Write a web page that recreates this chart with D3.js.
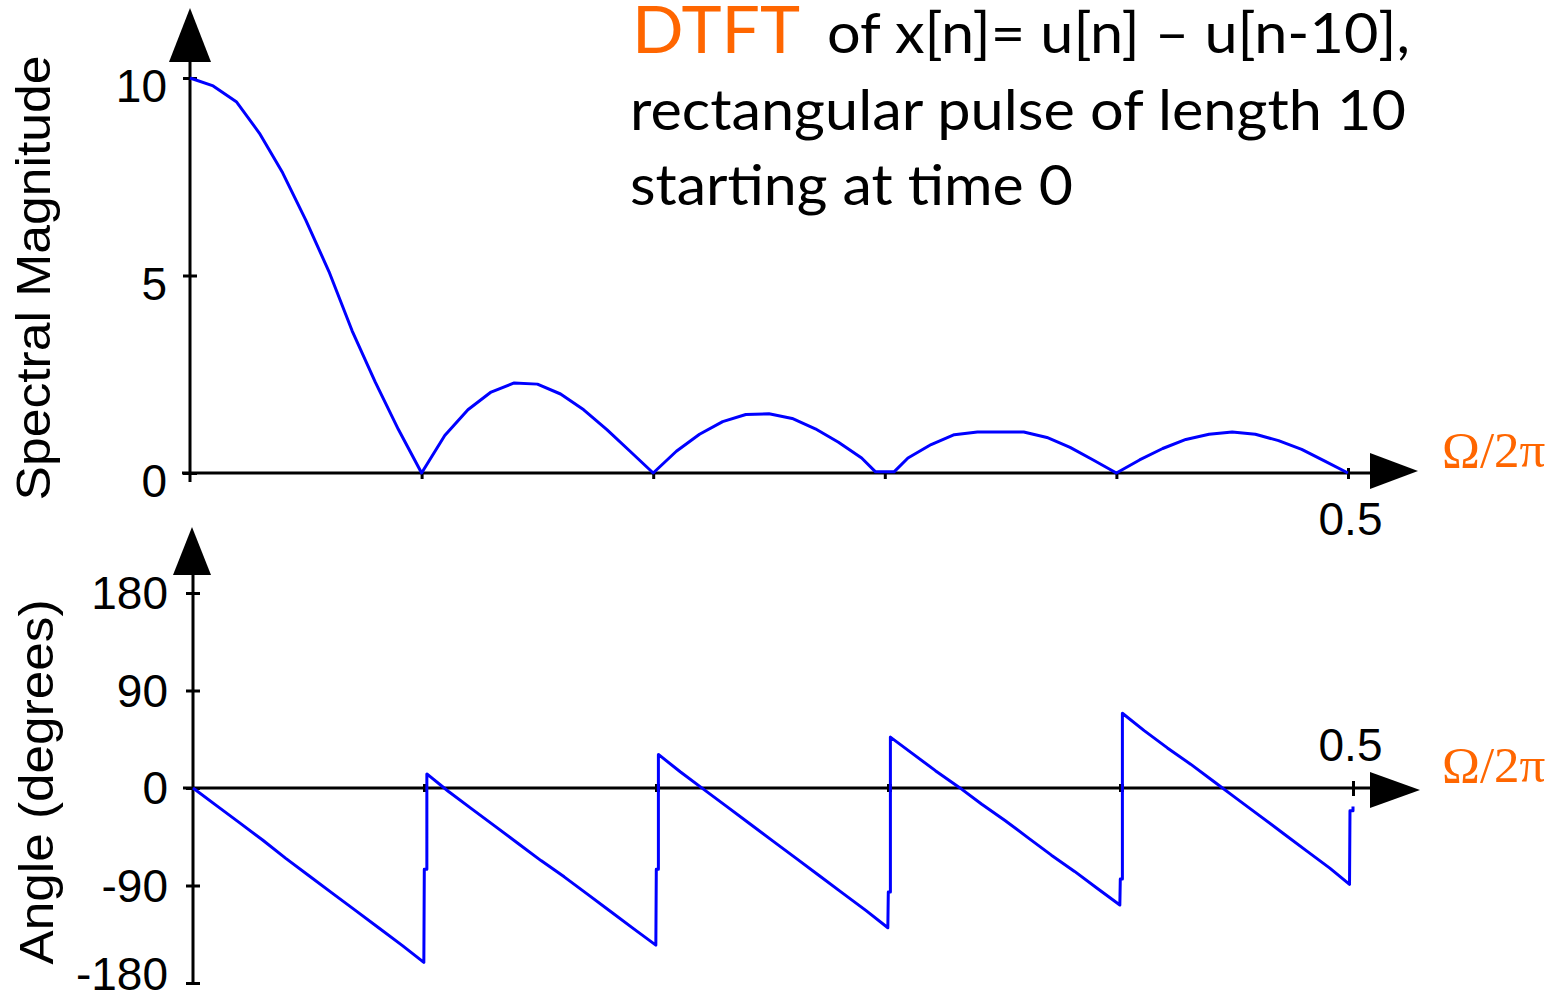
<!DOCTYPE html>
<html>
<head>
<meta charset="utf-8">
<script src="https://cdn.jsdelivr.net/npm/d3@7"></script>
<style>
  html, body { margin: 0; padding: 0; background: #ffffff; }
  svg { display: block; }
</style>
</head>
<body>
<svg id="chart" width="1566" height="1000"></svg>
<script>
// Normalised frequency samples (Ω/2π) and spectral magnitude of the length-10 pulse
const magFreq = [0, 0.01, 0.02, 0.03, 0.04, 0.05, 0.06, 0.07, 0.08, 0.09, 0.1,
  0.11, 0.12, 0.13, 0.14, 0.15, 0.16, 0.17, 0.18, 0.19, 0.2,
  0.21, 0.22, 0.23, 0.24, 0.25, 0.26, 0.27, 0.28, 0.29, 0.296, 0.304,
  0.31, 0.32, 0.33, 0.34, 0.35, 0.36, 0.37, 0.38, 0.39, 0.4,
  0.41, 0.42, 0.43, 0.44, 0.45, 0.46, 0.47, 0.48, 0.49, 0.5];
const magValue = [10, 9.8, 9.4, 8.6, 7.6, 6.4, 5.1, 3.6, 2.3, 1.1, 0,
  0.95, 1.6, 2.05, 2.28, 2.25, 2.0, 1.6, 1.1, 0.55, 0,
  0.55, 0.98, 1.3, 1.48, 1.5, 1.38, 1.12, 0.78, 0.38, 0.03, 0.03,
  0.38, 0.72, 0.97, 1.04, 1.04, 1.04, 0.9, 0.65, 0.33, 0,
  0.33, 0.62, 0.85, 0.98, 1.04, 0.98, 0.82, 0.6, 0.3, 0];

// Phase samples in degrees; repeated frequencies give the vertical jumps at the zeros
const phaseFreq = [0, 0.01, 0.02, 0.03, 0.04, 0.05, 0.06, 0.07, 0.08, 0.09, 0.0995,
  0.0997, 0.1008, 0.1008,
  0.11, 0.12, 0.13, 0.14, 0.15, 0.16, 0.17, 0.18, 0.19, 0.1995,
  0.1997, 0.2006, 0.2006,
  0.21, 0.22, 0.23, 0.24, 0.25, 0.26, 0.27, 0.28, 0.29, 0.2995,
  0.2997, 0.3006, 0.3006,
  0.31, 0.32, 0.33, 0.34, 0.35, 0.36, 0.37, 0.38, 0.39, 0.3995,
  0.3997, 0.4006, 0.4006,
  0.41, 0.42, 0.43, 0.44, 0.45, 0.46, 0.47, 0.48, 0.49, 0.4985,
  0.4987, 0.5, 0.5];
const phaseDeg = [0, -16, -32, -48, -65, -81, -97, -113, -129, -145, -161,
  -75, -75, 13,
  -3, -19, -35, -51, -67, -82, -98, -114, -130, -145,
  -75, -75, 31,
  15, -1, -17, -33, -49, -65, -81, -97, -113, -129,
  -96, -96, 47,
  32, 16, 1, -15, -30, -46, -62, -77, -93, -108,
  -84, -84, 69,
  53, 37, 22, 6, -10, -26, -42, -58, -74, -89,
  -21, -21, -17];

// Axis tick values and labels
const magTicks = [0, 5, 10];
const angleTicks = [-180, -90, 0, 90, 180];
const freqTicks = [0.1, 0.2, 0.3, 0.4, 0.5];
const freqLabel = "0.5";
const axisName = "Ω/2π";
const magTitle = "Spectral Magnitude";
const angleTitle = "Angle (degrees)";
const headline = ["DTFT", "of x[n]= u[n] – u[n-10],", "rectangular pulse of length 10", "starting at time 0"];

const svg = d3.select("#chart");
svg.append("rect").attr("width", 1566).attr("height", 1000).attr("fill", "#ffffff");

const ORANGE = "#ff6600";
const BLUE = "#0000ff";
const tickFont = "'Liberation Sans', Arial, sans-serif";
const titleFont = "Lato, 'Open Sans', sans-serif";

// ---------- scales ----------
const xTop = d3.scaleLinear().domain([0, 0.5]).range([190, 1348]);
const yTop = d3.scaleLinear().domain([0, 10]).range([473, 78]);
const xBot = d3.scaleLinear().domain([0, 0.5]).range([193, 1353]);
const yBot = d3.scaleLinear().domain([-180, 180]).range([983, 593]);

function arrowUp(g, x, tipY, baseY, half) {
  g.append("path")
    .attr("d", `M${x},${tipY} L${x + half},${baseY} L${x - half},${baseY} Z`)
    .attr("fill", "#000");
}
function arrowRight(g, y, baseX, tipX, half) {
  g.append("path")
    .attr("d", `M${tipX},${y} L${baseX},${y - half} L${baseX},${y + half} Z`)
    .attr("fill", "#000");
}

// ---------- upper panel: magnitude ----------
const magPanel = svg.append("g");

// axis lines
magPanel.append("line")
  .attr("x1", xTop(0)).attr("x2", xTop(0))
  .attr("y1", yTop(0) + 9).attr("y2", 50)
  .attr("stroke", "#000").attr("stroke-width", 3);
magPanel.append("line")
  .attr("x1", xTop(0) - 8).attr("x2", 1380)
  .attr("y1", yTop(0)).attr("y2", yTop(0))
  .attr("stroke", "#000").attr("stroke-width", 3);
arrowUp(magPanel, xTop(0), 8, 62, 21);
arrowRight(magPanel, yTop(0) - 2, 1370, 1418, 18);

// y ticks
const yAxisTop = magPanel.append("g")
  .attr("transform", `translate(${xTop(0)},0)`)
  .call(d3.axisLeft(yTop).tickValues(magTicks).tickSize(0).tickPadding(23)
    .tickFormat(d => String(d)));
yAxisTop.select(".domain").remove();
yAxisTop.selectAll(".tick line").attr("x1", -7).attr("x2", 7)
  .attr("stroke", "#000").attr("stroke-width", 3);
yAxisTop.selectAll(".tick text")
  .attr("font-family", tickFont).attr("font-size", 46).attr("fill", "#000")
  .attr("dy", "0.52em");

// x ticks
const xAxisTop = magPanel.append("g")
  .attr("transform", `translate(0,${yTop(0)})`)
  .call(d3.axisBottom(xTop).tickValues(freqTicks).tickSize(0)
    .tickFormat(d => (d === 0.5 ? freqLabel : "")));
xAxisTop.select(".domain").remove();
xAxisTop.selectAll(".tick line").attr("y1", d => (d === 0.5 ? -5 : 0)).attr("y2", 6)
  .attr("stroke", "#000").attr("stroke-width", 3);
xAxisTop.selectAll(".tick text")
  .attr("font-family", tickFont).attr("font-size", 46).attr("fill", "#000")
  .attr("y", 62).attr("dy", 0).attr("dx", 2);

// magnitude curve
const magLine = d3.line()
  .x((d, i) => xTop(magFreq[i]))
  .y(d => yTop(d));
magPanel.append("path")
  .datum(magValue)
  .attr("d", magLine)
  .attr("fill", "none")
  .attr("stroke", BLUE)
  .attr("stroke-width", 3)
  .attr("stroke-linejoin", "round");

// axis name
magPanel.append("text")
  .attr("x", 1442).attr("y", 467)
  .attr("font-family", "'Liberation Serif', 'Times New Roman', serif")
  .attr("font-size", 51).attr("fill", ORANGE)
  .text(axisName);

// y title
magPanel.append("text")
  .attr("transform", "translate(50,278) rotate(-90)")
  .attr("text-anchor", "middle")
  .attr("font-family", tickFont).attr("font-size", 48).attr("fill", "#000")
  .attr("textLength", 445).attr("lengthAdjust", "spacingAndGlyphs")
  .text(magTitle);

// ---------- lower panel: angle ----------
const anglePanel = svg.append("g");

anglePanel.append("line")
  .attr("x1", xBot(0)).attr("x2", xBot(0))
  .attr("y1", yBot(-180) + 2).attr("y2", 565)
  .attr("stroke", "#000").attr("stroke-width", 3);
anglePanel.append("line")
  .attr("x1", xBot(0) - 10).attr("x2", 1380)
  .attr("y1", yBot(0)).attr("y2", yBot(0))
  .attr("stroke", "#000").attr("stroke-width", 3);
arrowUp(anglePanel, xBot(0) - 1, 527, 575, 19);
arrowRight(anglePanel, yBot(0) + 2, 1370, 1420, 18);

const yAxisBot = anglePanel.append("g")
  .attr("transform", `translate(${xBot(0)},0)`)
  .call(d3.axisLeft(yBot).tickValues(angleTicks).tickSize(0).tickPadding(25)
    .tickFormat(d => String(d)));
yAxisBot.select(".domain").remove();
yAxisBot.selectAll(".tick line").attr("x1", -7).attr("x2", 7)
  .attr("stroke", "#000").attr("stroke-width", 3);
yAxisBot.selectAll(".tick text")
  .attr("font-family", tickFont).attr("font-size", 46).attr("fill", "#000")
  .attr("dy", d => (d === -180 ? "0.14em" : "0.34em"));

const xAxisBot = anglePanel.append("g")
  .attr("transform", `translate(0,${yBot(0)})`)
  .call(d3.axisBottom(xBot).tickValues(freqTicks).tickSize(0)
    .tickFormat(d => (d === 0.5 ? freqLabel : "")));
xAxisBot.select(".domain").remove();
xAxisBot.selectAll(".tick line").attr("y1", d => (d === 0.5 ? -7 : -4)).attr("y2", d => (d === 0.5 ? 8 : 4))
  .attr("stroke", "#000").attr("stroke-width", d => (d === 0.5 ? 3 : 5));
xAxisBot.selectAll(".tick text")
  .attr("font-family", tickFont).attr("font-size", 46).attr("fill", "#000")
  .attr("y", -27).attr("dy", 0).attr("dx", -3);

const phaseLine = d3.line()
  .x((d, i) => xBot(phaseFreq[i]))
  .y(d => yBot(d));
anglePanel.append("path")
  .datum(phaseDeg)
  .attr("d", phaseLine)
  .attr("fill", "none")
  .attr("stroke", BLUE)
  .attr("stroke-width", 3)
  .attr("stroke-linejoin", "round");

anglePanel.append("text")
  .attr("x", 1442).attr("y", 782)
  .attr("font-family", "'Liberation Serif', 'Times New Roman', serif")
  .attr("font-size", 51).attr("fill", ORANGE)
  .text(axisName);

anglePanel.append("text")
  .attr("transform", "translate(53,782) rotate(-90)")
  .attr("text-anchor", "middle")
  .attr("font-family", tickFont).attr("font-size", 48).attr("fill", "#000")
  .attr("textLength", 365).attr("lengthAdjust", "spacingAndGlyphs")
  .text(angleTitle);

// ---------- headline ----------
const head = svg.append("g").attr("font-family", titleFont);
head.append("text")
  .attr("x", 632).attr("y", 53)
  .attr("font-size", 66).attr("fill", ORANGE)
  .attr("textLength", 168).attr("lengthAdjust", "spacingAndGlyphs")
  .text(headline[0]);
head.append("text")
  .attr("x", 827).attr("y", 53)
  .attr("font-size", 56).attr("fill", "#000")
  .attr("textLength", 583).attr("lengthAdjust", "spacingAndGlyphs")
  .text(headline[1]);
head.append("text")
  .attr("x", 630).attr("y", 130)
  .attr("font-size", 56).attr("fill", "#000")
  .attr("textLength", 776).attr("lengthAdjust", "spacingAndGlyphs")
  .text(headline[2]);
head.append("text")
  .attr("x", 630).attr("y", 205)
  .attr("font-size", 56).attr("fill", "#000")
  .attr("textLength", 443).attr("lengthAdjust", "spacingAndGlyphs")
  .text(headline[3]);
</script>
</body>
</html>
